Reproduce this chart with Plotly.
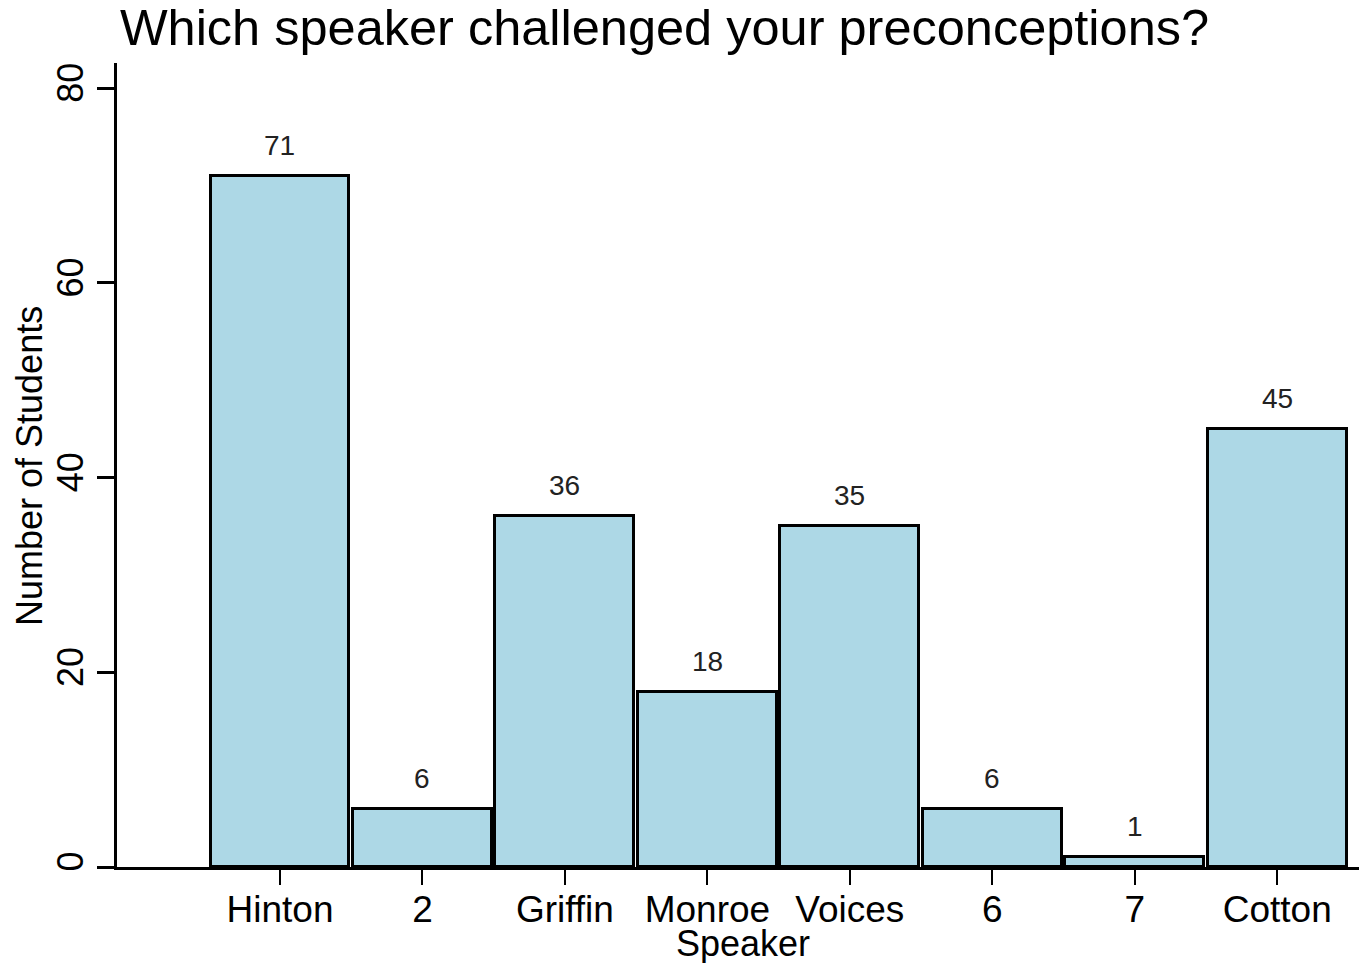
import plotly.graph_objects as go

speakers = ["Hinton", "2", "Griffin", "Monroe", "Voices", "6", "7", "Cotton"]
students = [71, 6, 36, 18, 35, 6, 1, 45]
y_ticks = [0, 20, 40, 60, 80]

# page body has an 8px margin; lay the figure out in screen pixels minus that
OFF = 8
W, H = 1367 - OFF, 963 - OFF
L, R, T = 117 - OFF, 0, 63 - OFF
PB = 867 - OFF  # plot bottom in figure px
B = H - PB
PW, PH = W - L - R, H - T - B
FONT = "Liberation Sans, Arial, sans-serif"


def px_x(sx):
    return (sx - OFF - L) / PW


def px_y(sy):
    return (PB - (sy - OFF)) / PH


pos = list(range(len(speakers)))

fig = go.Figure()
fig.add_trace(go.Bar(
    x=pos, y=students, width=0.975,
    marker=dict(color="#ADD8E6", line=dict(color="black", width=3)),
    hoverinfo="skip",
))

annotations = []
for xi, v in zip(pos, students):
    annotations.append(dict(
        x=xi, y=v, xref="x", yref="y", text=str(v), showarrow=False,
        yanchor="bottom", yshift=13, font=dict(family=FONT, size=28, color="#222222"),
    ))
annotations.append(dict(
    x=px_x(743), y=px_y(944), xref="paper", yref="paper",
    text="Speaker", showarrow=False, xanchor="center", yanchor="middle",
    font=dict(family=FONT, size=36, color="black"),
))
annotations.append(dict(
    x=px_x(29), y=px_y(466), xref="paper", yref="paper",
    text="Number of Students", showarrow=False, textangle=-90, xanchor="center", yanchor="middle",
    font=dict(family=FONT, size=36, color="black"),
))

fig.update_layout(
    width=W, height=H,
    margin=dict(l=L, r=R, t=T, b=B, pad=0),
    paper_bgcolor="white", plot_bgcolor="white",
    showlegend=False,
    title=dict(text="Which speaker challenged your preconceptions?",
               x=(664.5 - OFF) / W, xanchor="center", xref="container",
               y=1 - (27 - OFF) / H, yanchor="middle", yref="container",
               font=dict(family=FONT, size=50.5, color="black")),
    xaxis=dict(range=[-1.144, 7.63], tickvals=pos, ticktext=speakers,
               showgrid=False, zeroline=False, showline=True, linecolor="black", linewidth=3,
               ticks="outside", ticklen=15, tickwidth=2, tickcolor="black",
               tickfont=dict(family=FONT, size=37, color="black"), ticklabelstandoff=-7),
    yaxis=dict(range=[0, 82.57], tickvals=y_ticks, showgrid=False, zeroline=False,
               showline=True, linecolor="black", linewidth=3,
               ticks="outside", ticklen=17, tickwidth=3, tickcolor="black",
               tickangle=-90, tickfont=dict(family=FONT, size=36, color="black"),
               ticklabelstandoff=0),
    annotations=annotations,
    bargap=0,
)

fig.write_html("out.html")
